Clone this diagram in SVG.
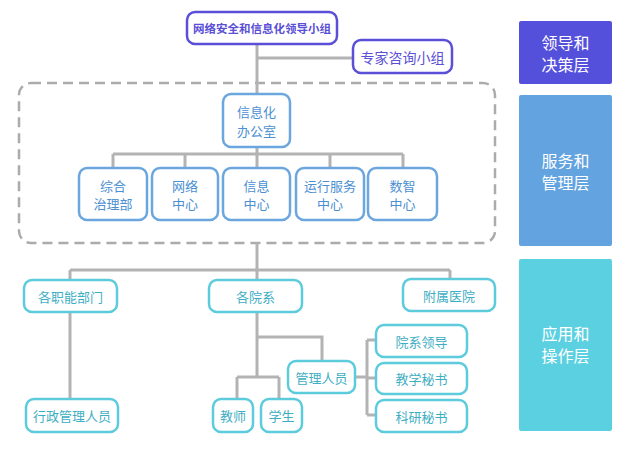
<svg xmlns="http://www.w3.org/2000/svg" width="639" height="452" viewBox="0 0 639 452">
<style>
text{font-family:"Noto Sans CJK SC","Noto Sans",sans-serif;text-anchor:middle;dominant-baseline:central}
.p rect{fill:#fff;stroke:#5a4fd6;stroke-width:2.5}
.p text{fill:#5a4fd6}
.b rect{fill:#fff;stroke:#6ba6de;stroke-width:2.5}
.b text{fill:#4b90d2;font-size:13px}
.c rect{fill:#fff;stroke:#5ccbdc;stroke-width:2.5}
.c text{fill:#3eaec3;font-size:13px}
.lay text{fill:#fff;font-size:16px}
.ln{fill:none;stroke:#b3b3b3;stroke-width:3}
</style>
<rect width="639" height="452" fill="#fff"/>
<rect x="19" y="83" width="476" height="160" rx="12" fill="none" stroke="#ababab" stroke-width="2.5" stroke-dasharray="10,6"/>
<g id="connectors" class="ln">
<path d="M257,44V94M257,58H353"/>
<path d="M257,147V168M113,154H403M113,154V168M185,154V168M330,154V168M403,154V168"/>
<path d="M257,243V280M70,270H450M70,270V280M450,270V279M70,312V399"/>
<path d="M257,312V377M257,337H322V361M237,377H279M237,377V399M279,377V399"/>
<path d="M355,377H367M367,340V415M367,340H376M367,378H376M367,415H376"/>
</g>
<g id="n_leader" class="p"><rect x="187" y="12" width="150" height="32" rx="8"/><text x="262" y="28" font-size="11.5" font-weight="bold">网络安全和信息化领导小组</text></g>
<g id="n_expert" class="p"><rect x="353" y="40" width="99" height="33" rx="8"/><text x="402.5" y="56.5" font-size="14">专家咨询小组</text></g>
<g id="n_office" class="b"><rect x="223" y="94" width="67" height="53" rx="8"/><text x="256.5" y="111.5">信息化</text><text x="256.5" y="130">办公室</text></g>
<g id="n_zonghe" class="b"><rect x="79" y="168" width="68" height="52" rx="8"/><text x="113" y="185">综合</text><text x="113" y="203.5">治理部</text></g>
<g id="n_wangluo" class="b"><rect x="152" y="168" width="66" height="52" rx="8"/><text x="185" y="185">网络</text><text x="185" y="203.5">中心</text></g>
<g id="n_xinxi" class="b"><rect x="223" y="168" width="67" height="52" rx="8"/><text x="256.5" y="185">信息</text><text x="256.5" y="203.5">中心</text></g>
<g id="n_yunxing" class="b"><rect x="296" y="168" width="68" height="52" rx="8"/><text x="330" y="185">运行服务</text><text x="330" y="203.5">中心</text></g>
<g id="n_shuzhi" class="b"><rect x="368" y="168" width="69" height="52" rx="8"/><text x="402.5" y="185">数智</text><text x="402.5" y="203.5">中心</text></g>
<g id="n_zhineng" class="c"><rect x="24" y="280" width="93" height="32" rx="8"/><text x="70.5" y="296">各职能部门</text></g>
<g id="n_yuanxi" class="c"><rect x="209" y="280" width="93" height="32" rx="8"/><text x="255.5" y="296">各院系</text></g>
<g id="n_yiyuan" class="c"><rect x="403" y="279" width="92" height="32" rx="8"/><text x="449" y="295">附属医院</text></g>
<g id="n_xingzheng" class="c"><rect x="26" y="399" width="92" height="33" rx="8"/><text x="72" y="415.5">行政管理人员</text></g>
<g id="n_guanli" class="c"><rect x="288" y="361" width="67" height="32" rx="8"/><text x="321.5" y="377">管理人员</text></g>
<g id="n_jiaoshi" class="c"><rect x="213" y="399" width="40" height="33" rx="8"/><text x="233" y="415.5">教师</text></g>
<g id="n_xuesheng" class="c"><rect x="261" y="399" width="41" height="33" rx="8"/><text x="281.5" y="415.5">学生</text></g>
<g id="n_lingdao" class="c"><rect x="376" y="325" width="91" height="32" rx="8"/><text x="421.5" y="341">院系领导</text></g>
<g id="n_jiaoxue" class="c"><rect x="376" y="363" width="91" height="31" rx="8"/><text x="421.5" y="378.5">教学秘书</text></g>
<g id="n_keyan" class="c"><rect x="376" y="400" width="91" height="32" rx="8"/><text x="421.5" y="416">科研秘书</text></g>
<g id="layers" class="lay">
<g id="l1"><rect x="519" y="21" width="93" height="63" rx="2" fill="#5550dc"/><text x="565.5" y="42">领导和</text><text x="565.5" y="64">决策层</text></g>
<g id="l2"><rect x="519" y="95" width="93" height="151" rx="2" fill="#63a3df"/><text x="565.5" y="160">服务和</text><text x="565.5" y="182">管理层</text></g>
<g id="l3"><rect x="519" y="259" width="93" height="172" rx="2" fill="#5bd0e1"/><text x="565.5" y="333">应用和</text><text x="565.5" y="355">操作层</text></g>
</g>
</svg>
